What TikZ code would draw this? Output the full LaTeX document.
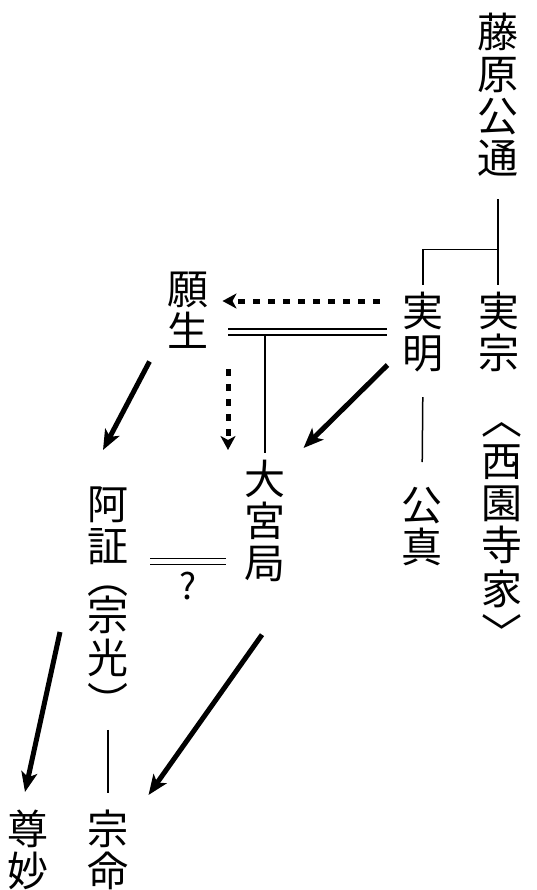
\documentclass[tikz,border=0pt]{standalone}
\usepackage{fontspec}
\newfontfamily\cjk{Noto Sans CJK JP}
\usetikzlibrary{arrows.meta}
\tikzset{
  vtext/.style={font=\cjk\fontsize{41}{42}\selectfont, align=center, inner sep=0pt, outer sep=0pt, anchor=north},
  thin/.style={line width=1.5pt},
  dbl/.style={double distance=4.5pt, line width=1.5pt},
  bigarrow/.style={line width=5pt, -{Stealth[length=20pt,width=16pt,inset=5pt]}},
  dotarrow/.style={line width=5pt, dash pattern=on 7pt off 8pt, -{Stealth[length=14pt,width=15pt,inset=4pt]}},
}
\begin{document}
\begin{tikzpicture}[x=1pt,y=-1pt]
\useasboundingbox[fill=white] (0,0) rectangle (536,890);
% names
\node[vtext] (fuji) at (498,13) {藤\\原\\公\\通};
\node[vtext] (mune) at (499,292) {実\\宗};
\node[vtext] (aki) at (423,292) {実\\明};
\node[vtext] (saionji) at (502,423) {︿\\西\\園\\寺\\[2pt]家\\[2pt]﹀};
\node[vtext] (kozane) at (422,487) {公\\真};
\node[vtext] (gansho) at (188,272) {願\\生};
\node[vtext] (omiya) at (265,460) {大\\宮\\局};
\node[vtext] (asho) at (108,487) {阿\\証\\[-10pt]︵\\[-5pt]宗\\[1pt]光\\[2pt]︶};
\node[vtext] (munemei) at (108,810) {宗\\命};
\node[vtext] (sonmyo) at (28,810) {尊\\妙};
\node[font=\cjk\fontsize{36}{38}\selectfont, inner sep=0pt] (q) at (188,586) {?};
% family lines
\coordinate (fork) at ([yshift=-73pt]fuji.south);
\draw[thin, shorten <=23pt] (fuji.south) -- (fork);
\draw[thin, shorten >=7pt] (fork) -- (fork |- mune.north);
\draw[thin, shorten >=7pt] (fork) -| (aki.north);
\draw[thin, shorten <=25pt, shorten >=25pt] (aki.south) -- (kozane.north);
% marriage gansho = saneaki
\draw[dbl, shorten <=16pt, shorten >=19pt] (aki.west) -- (aki.west -| gansho.east);
\draw[thin, shorten <=3pt, shorten >=7pt] (omiya.north |- aki.west) -- (omiya.north);
% marriage asho = omiya
\coordinate (m1) at ([yshift=20pt]omiya.south west);
\draw[dbl, shorten <=19pt, shorten >=21pt] (m1) -- (m1 -| asho.east);
\draw[thin, shorten <=12pt, shorten >=17pt] (asho.south) -- (munemei.north);
% arrows
\draw[dotarrow, shorten <=23pt, shorten >=14pt] ([yshift=31pt]aki.west) -- ([yshift=31pt]aki.west -| gansho.east);
\coordinate (s1) at ([xshift=40pt,yshift=-21pt]gansho.south);
\draw[dotarrow, shorten >=10pt] (s1) -- (s1 |- omiya.north);
\draw[bigarrow] ([xshift=-15pt,yshift=7pt]aki.south west) -- ([xshift=18pt,yshift=12pt]omiya.north east);
\draw[bigarrow] ([xshift=-18pt,yshift=-13pt]gansho.south west) -- ([xshift=-5pt,yshift=37pt]asho.north);
\draw[bigarrow] ([xshift=-48pt,yshift=-145pt]asho.north) -- ([xshift=-3pt,yshift=18pt]sonmyo.north);
\draw[bigarrow] ([xshift=-3pt,yshift=-53pt]omiya.south) -- ([xshift=20pt,yshift=15pt]munemei.north east);
\end{tikzpicture}
\end{document}
